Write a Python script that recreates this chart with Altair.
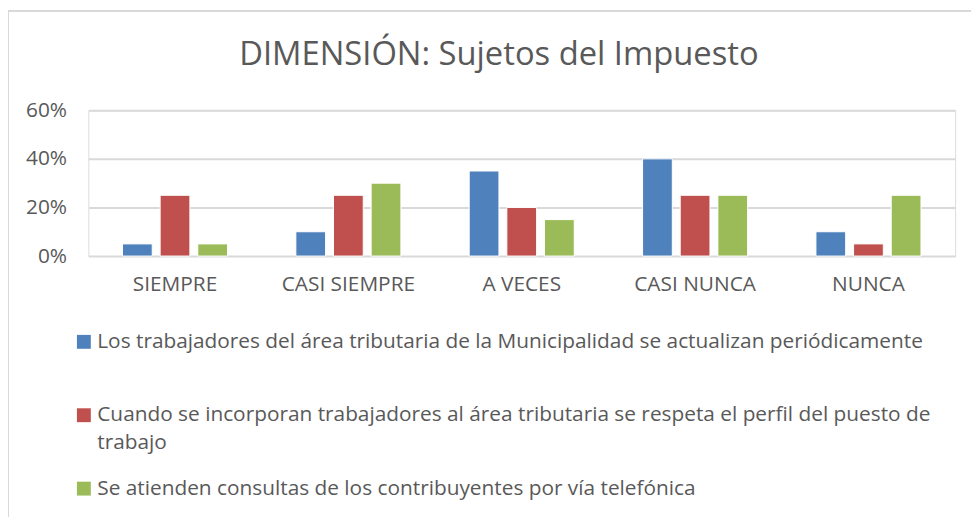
import altair as alt
import pandas as pd

categories = ["SIEMPRE", "CASI SIEMPRE", "A VECES", "CASI NUNCA", "NUNCA"]
series = [
    "Los trabajadores del área tributaria de la Municipalidad se actualizan periódicamente",
    "Cuando se incorporan trabajadores al área tributaria se respeta el perfil del puesto de trabajo",
    "Se atienden consultas de los contribuyentes por vía telefónica",
]
values_s1 = [0.05, 0.10, 0.35, 0.40, 0.10]
values_s2 = [0.25, 0.25, 0.20, 0.25, 0.05]
values_s3 = [0.05, 0.30, 0.15, 0.25, 0.25]
colors = ["#4F81BD", "#C0504D", "#9BBB59"]
title_text = "DIMENSIÓN: Sujetos del Impuesto"

rows = []
for s, vals in zip(series, [values_s1, values_s2, values_s3]):
    for c, v in zip(categories, vals):
        rows.append({"categoria": c, "serie": s, "valor": v})
df = pd.DataFrame(rows)

FONT = "Open Sans"
GREY = "#595959"

# second label wraps onto two lines; first label gets an empty second line so the
# legend rows are spaced like the original
label_expr = (
    "datum.label == '" + series[1] + "' ? "
    "['Cuando se incorporan trabajadores al área tributaria se respeta el perfil del puesto de', 'trabajo'] "
    ": datum.label == '" + series[0] + "' ? [datum.label, ''] : datum.label"
)

bars = alt.Chart(df).mark_bar(stroke="white", strokeWidth=1).encode(
    x=alt.X(
        "categoria:N",
        sort=categories,
        title=None,
        scale=alt.Scale(paddingInner=0.394, paddingOuter=0.197),
        axis=alt.Axis(
            labelAngle=0, labelFont=FONT, labelFontSize=21, labelColor=GREY,
            ticks=False, domain=False, labelPadding=18,
        ),
    ),
    xOffset=alt.XOffset("serie:N", sort=series, scale=alt.Scale(paddingInner=0.21)),
    y=alt.Y(
        "valor:Q",
        title=None,
        scale=alt.Scale(domain=[0, 0.6]),
        axis=alt.Axis(
            values=[0, 0.2, 0.4, 0.6], format=".0%", labelFont=FONT, labelFontSize=21,
            labelColor=GREY, ticks=False, domain=False, labelPadding=22,
            gridColor="#D9D9D9", gridWidth=2,
        ),
    ),
    color=alt.Color(
        "serie:N",
        sort=series,
        scale=alt.Scale(domain=series, range=colors),
        legend=alt.Legend(
            title=None, orient="none", legendX=-15, legendY=223, direction="vertical",
            symbolType="square", symbolSize=196, symbolStrokeWidth=0, symbolOpacity=1,
            labelFont=FONT, labelFontSize=21, labelColor=GREY, labelLimit=950,
            labelOffset=3, rowPadding=24, labelExpr=label_expr,
        ),
    ),
)

border = alt.Chart(alt.Data(values=[{}])).mark_rect(
    fill=None, stroke="#D9D9D9", strokeWidth=2
).encode(
    x=alt.value(-81), x2=alt.value(1000), y=alt.value(-100), y2=alt.value(500)
)

title = alt.Chart(alt.Data(values=[{}])).mark_text(
    text=title_text, font=FONT, fontSize=33, color=GREY, align="center", baseline="middle"
).encode(x=alt.value(414), y=alt.value(-56))

chart = alt.layer(border, bars, title).properties(
    width=874,
    height=147,
    autosize=alt.AutoSizeParams(type="none"),
    padding={"left": 81, "top": 101, "right": 16, "bottom": 261},
).configure_view(stroke=None).configure(
    background="white",
    style={"guide-label": {"lineHeight": 28}},
)

chart.save("out.html", embed_options={"renderer": "svg", "actions": False})
